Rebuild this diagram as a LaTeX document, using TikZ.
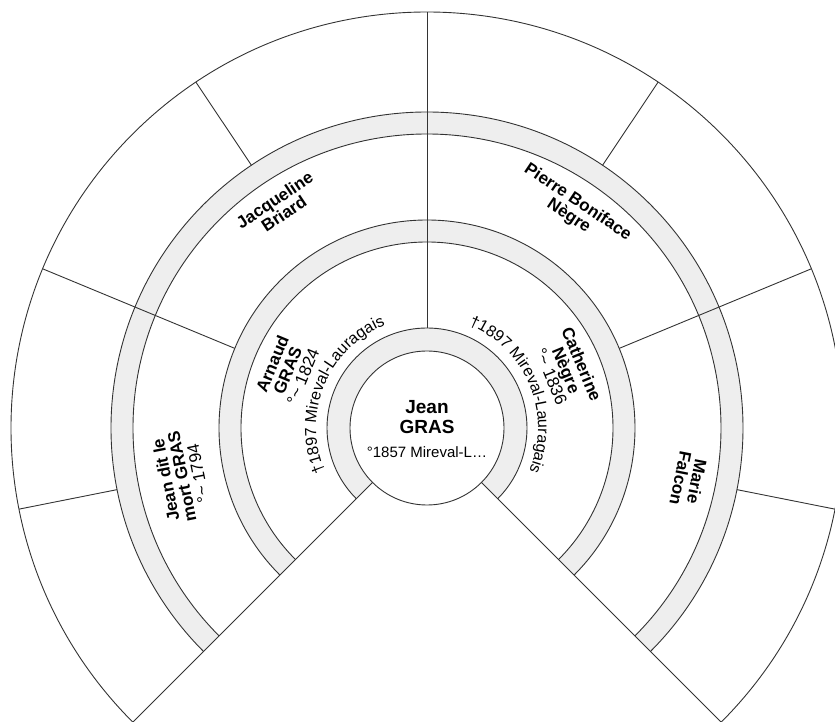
\documentclass[tikz,border=0pt]{standalone}
\usepackage{fontspec}
\setmainfont{Liberation Sans}
\usetikzlibrary{decorations.text}
\definecolor{ringgray}{HTML}{EEEEEE}
\definecolor{linegray}{HTML}{333333}

\begin{document}
\begin{tikzpicture}[x=1pt, y=1pt, line width=0.9pt,
        person/.style={align=center, inner sep=0pt, font=\fontsize{17}{16.5}\selectfont},
        rootname/.style={align=center, inner sep=0pt, font=\fontsize{19}{20}\selectfont\bfseries},
        rootdate/.style={inner sep=0pt, font=\fontsize{15}{16}\selectfont},
        deathtext/.style={decorate, decoration={text along path, text align=center,
            text={|\fontsize{16}{18}\selectfont|#1}}}]
        \useasboundingbox (-427,-294) rectangle (408,428);
        \clip (-427,-294) rectangle (408,428);
        \foreach \ri/\ro in {77/100, 186/208, 294/316}
        \fill[ringgray] (225:\ri) arc[start angle=225, end angle=-45, radius=\ri pt]
            -- (-45:\ro) arc[start angle=-45, end angle=225, radius=\ro pt] -- cycle;
        \foreach \r in {100, 186, 208, 294, 316, 416}
        \draw[linegray] (225:\r) arc[start angle=225, end angle=-45, radius=\r pt];
        \draw[linegray] (0,0) circle[radius=77pt];
        \foreach \a in {225, -45}
        \draw[linegray] (\a:77) -- (\a:416);
        \draw[linegray] (90:100) -- (90:416);
        \foreach \a in {157.5, 22.5}
        \draw[linegray] (\a:208) -- (\a:416);
        \foreach \a in {191.25, 123.75, 56.25, -11.25}
        \draw[linegray] (\a:316) -- (\a:416);
        \node[rootname] (root) at (0,11) {Jean\\GRAS};
        \node[rootdate] (rootbirth) at (0,-24) {°1857 Mireval-L…};
        \node[person, rotate=67.5] (father) at (157.5:151) {\textbf{Arnaud}\\\textbf{GRAS}\\°\textasciitilde{} 1824};
        \node[person, rotate=-67.5] (mother) at (22.5:151) {\textbf{Catherine}\\\textbf{Nègre}\\°\textasciitilde{} 1836};
        \path[deathtext={†1897 Mireval-Lauragais}] (212.5:111) arc[start angle=212.5, end angle=102.5, radius=111pt];
        \path[deathtext={†1897 Mireval-Lauragais}] (77.5:111) arc[start angle=77.5, end angle=-32.5, radius=111pt];
        \node[person, rotate=101.25] (fatherfather) at (191.25:250) {\textbf{Jean dit le}\\\textbf{mort GRAS}\\°\textasciitilde{} 1794};
        \node[person, rotate=33.75] (fathermother) at (123.75:266) {\textbf{Jacqueline}\\\textbf{Briard}};
        \node[person, rotate=-33.75] (motherfather) at (56.25:263) {\textbf{Pierre Boniface}\\\textbf{Nègre}};
        \node[person, rotate=-101.25] (mothermother) at (-11.25:267) {\textbf{Marie}\\\textbf{Falcon}};
    \end{tikzpicture}
\end{document}
